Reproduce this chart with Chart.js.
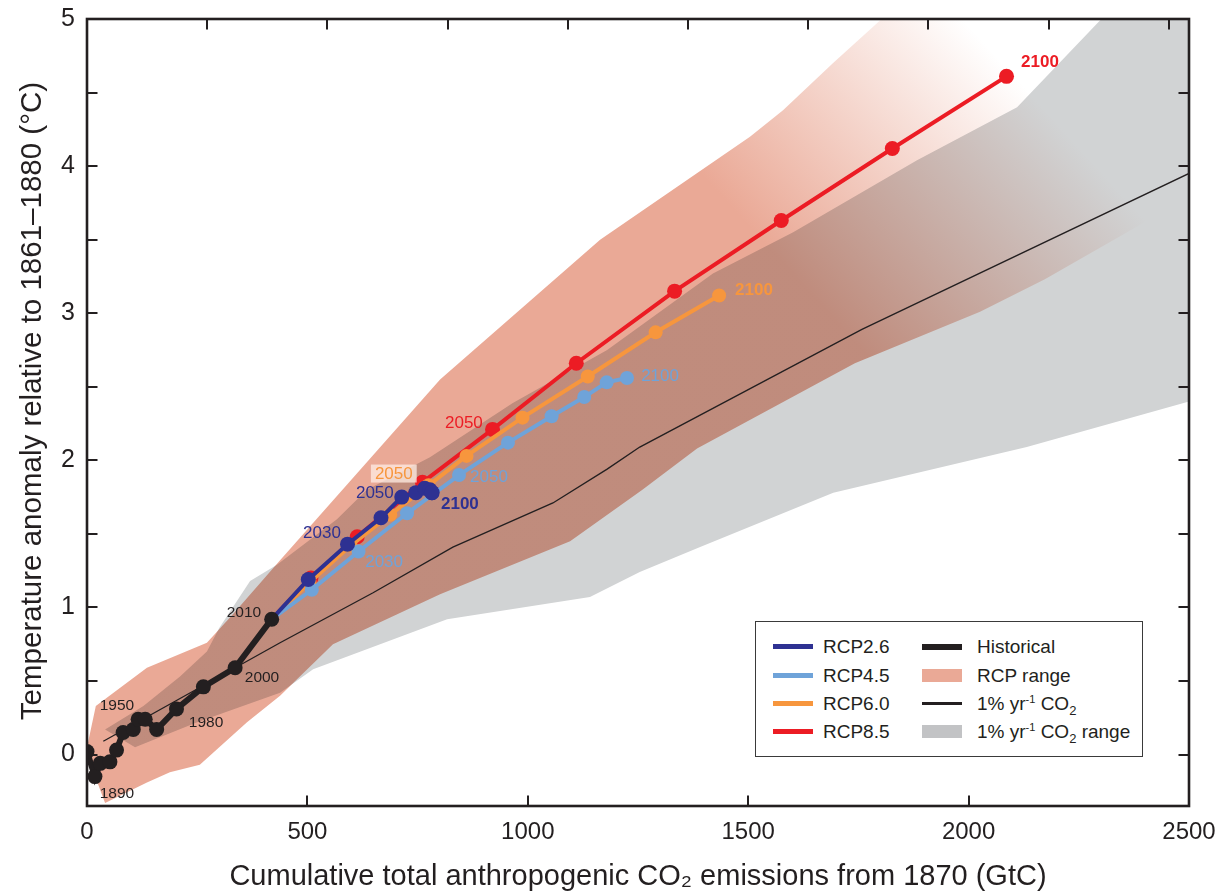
<!DOCTYPE html>
<html>
<head>
<meta charset="utf-8">
<script src="https://cdn.jsdelivr.net/npm/chart.js@4.4.1/dist/chart.umd.min.js"></script>
<style>
  html, body { margin: 0; padding: 0; background: #fff; }
  #wrap { position: relative; width: 1220px; height: 894px; overflow: hidden; }
  canvas { display: block; }
  #legend {
    position: absolute; left: 755px; top: 621px; width: 388px; height: 136px;
    border: 1.5px solid #3a3a3a; background: #fff; box-sizing: border-box;
    font-family: 'Liberation Sans', Arial, sans-serif; font-size: 19px; color: #231f20;
  }
  #legend .sw { position: absolute; width: 40px; }
  #legend .lb { position: absolute; line-height: 22px; white-space: nowrap; }
  #legend sup { font-size: 11px; vertical-align: 7px; line-height: 0; }
  #legend sub { font-size: 13px; vertical-align: -5px; line-height: 0; }
</style>
</head>
<body>
<div id="wrap">
  <canvas id="chart" width="1220" height="894"></canvas>
  <div id="legend"></div>
</div>
<script>
// ---------------- data ----------------
// x: cumulative CO2 emissions since 1870 (GtC), y: temperature anomaly (°C)
const historical = [[0,0.02],[18,-0.15],[30,-0.06],[52,-0.05],[67,0.03],[82,0.15],[105,0.17],[116,0.24],[132,0.24],[158,0.17],[203,0.31],[264,0.46],[336,0.59],[419,0.92]];
const rcp26 = [[419,0.92],[502,1.19],[591,1.43],[667,1.61],[714,1.75],[746,1.78],[766,1.81],[778,1.80],[783,1.78],[782,1.78]];
const rcp45 = [[419,0.92],[510,1.12],[616,1.38],[726,1.64],[844,1.90],[955,2.12],[1054,2.30],[1128,2.43],[1179,2.53],[1225,2.56]];
const rcp60 = [[419,0.92],[505,1.17],[598,1.42],[688,1.63],[775,1.83],[861,2.03],[988,2.29],[1136,2.57],[1290,2.87],[1434,3.12]];
const rcp85 = [[419,0.92],[508,1.20],[613,1.48],[761,1.85],[920,2.21],[1110,2.66],[1333,3.15],[1575,3.63],[1827,4.12],[2086,4.61]];
const onePct = [[37,0.09],[438,0.76],[649,1.10],[830,1.41],[1057,1.71],[1180,1.94],[1254,2.09],[1758,2.89],[2500,3.95]];

const rcpRangeUpper = [[0,0.05],[20,0.33],[136,0.59],[272,0.76],[330,0.95],[438,1.32],[801,2.55],[1164,3.50],[1504,4.20],[1579,4.38],[1692,4.70],[1799,4.99],[2000,5.60],[2418,3.65]];
const rcpRangeLower = [[0,0.00],[41,-0.33],[136,-0.19],[188,-0.12],[256,-0.07],[363,0.22],[438,0.40],[558,0.75],[801,1.09],[1096,1.45],[1260,1.80],[1384,2.08],[1742,2.66],[2026,3.01],[2173,3.23],[2418,3.65]];

const onePctRangeUpper = [[41,0.17],[128,0.33],[211,0.53],[272,0.70],[300,0.86],[370,1.18],[431,1.29],[567,1.60],[635,1.80],[778,2.02],[966,2.39],[1180,2.75],[1420,3.27],[1602,3.55],[1883,4.04],[2110,4.40],[2298,4.99],[2500,5.45]];
const onePctRangeLower = [[41,0.17],[109,0.05],[250,0.22],[438,0.42],[513,0.58],[817,0.92],[1141,1.07],[1254,1.24],[1391,1.41],[1693,1.78],[2132,2.09],[2500,2.40]];

// year annotations: text, anchor in data coordinates, series, bold
const yearLabels = [
  ['1890', 68, -0.26, 'hist', false], ['1950', 68, 0.34, 'hist', false], ['1980', 270, 0.22, 'hist', false],
  ['2000', 397, 0.53, 'hist', false], ['2010', 356, 0.97, 'hist', false],
  ['2030', 533, 1.51, 'rcp26', false], ['2050', 653, 1.78, 'rcp26', false], ['2100', 846, 1.71, 'rcp26', true],
  ['2030', 674, 1.31, 'rcp45', false], ['2050', 912, 1.89, 'rcp45', false], ['2100', 1300, 2.58, 'rcp45', false],
  ['2050', 696, 1.91, 'rcp60', false], ['2100', 1513, 3.16, 'rcp60', true],
  ['2050', 855, 2.26, 'rcp85', false], ['2100', 2162, 4.71, 'rcp85', true]
];

const xTickValues = [0, 500, 1000, 1500, 2000, 2500];
const yTickValues = [0, 0.5, 1, 1.5, 2, 2.5, 3, 3.5, 4, 4.5, 5];
const topTicksGtCO2 = [1000, 2000, 3000, 4000, 5000, 6000, 7000, 8000, 9000];
const GTCO2_PER_GTC = 3.667;

const legendEntries = [
  ['RCP2.6', 'rcp26', 'line', 0, 0], ['RCP4.5', 'rcp45', 'line', 0, 1], ['RCP6.0', 'rcp60', 'line', 0, 2], ['RCP8.5', 'rcp85', 'line', 0, 3],
  ['Historical', 'hist', 'thick', 1, 0], ['RCP range', 'rcpRange', 'box', 1, 1],
  ['1% yr<sup>-1</sup> CO<sub>2</sub>', 'hist', 'thin', 1, 2], ['1% yr<sup>-1</sup> CO<sub>2</sub> range', 'grayLegend', 'box', 1, 3]
];

// ---------------- styles ----------------
const COLORS = {
  hist: '#231f20', rcp26: '#2e3192', rcp45: '#6fa3d9', rcp60: '#f7963d', rcp85: '#ec1c24',
  rcpRange: '#eaa996', gray: '#d1d3d4', grayLegend: '#c2c3c5'
};
const FONT = "'Liberation Sans', Arial, sans-serif";
const FADE_FROM = [1572, 3.36], FADE_TO = [2071, 4.72];

const toXY = a => a.map(([x, y]) => ({x, y}));
const noPts = {pointRadius: 0, pointHoverRadius: 0, showLine: false, borderWidth: 0};

function rcpGradient(context) {
  const chart = context.chart;
  const xs = chart.scales.x, ys = chart.scales.y;
  if (!xs || !ys || !chart.chartArea) return 'rgba(234,169,150,0.9)';
  const g = chart.ctx.createLinearGradient(
    xs.getPixelForValue(FADE_FROM[0]), ys.getPixelForValue(FADE_FROM[1]),
    xs.getPixelForValue(FADE_TO[0]), ys.getPixelForValue(FADE_TO[1]));
  g.addColorStop(0, 'rgba(234,169,150,1)');
  g.addColorStop(0.55, 'rgba(234,169,150,0.45)');
  g.addColorStop(1, 'rgba(234,169,150,0)');
  return g;
}

function series(data, color, width, radius, order) {
  return {
    data: toXY(data), borderColor: color, backgroundColor: color, borderWidth: width,
    pointBackgroundColor: color, pointBorderWidth: 0,
    pointRadius: c => (c.dataIndex === 0 && data !== historical ? 0 : radius),
    fill: false, order
  };
}

const datasets = [
  series(historical, COLORS.hist, 6, 7.5, 1),                                   // 0
  series(rcp26, COLORS.rcp26, 4, 7.5, 2),                                       // 1
  series(rcp45, COLORS.rcp45, 4, 7, 3),                                         // 2
  series(rcp60, COLORS.rcp60, 4, 7, 4),                                         // 3
  series(rcp85, COLORS.rcp85, 4, 7.5, 5),                                       // 4
  {data: toXY(onePct), borderColor: COLORS.hist, borderWidth: 1.3, pointRadius: 0, fill: false, order: 6}, // 5
  Object.assign({data: toXY(rcpRangeLower), order: 8, fill: false}, noPts),     // 6
  Object.assign({data: toXY(rcpRangeUpper), order: 7, fill: {target: 6}, backgroundColor: rcpGradient}, noPts), // 7
  Object.assign({data: toXY(onePctRangeLower), order: 10, fill: false}, noPts), // 8
  Object.assign({data: toXY(onePctRangeUpper), order: 9, fill: {target: 8}, backgroundColor: COLORS.gray}, noPts) // 9
];
const IDX_RCP_LOWER = 6, IDX_RCP_UPPER = 7;

const figurePlugin = {
  id: 'figure',
  beforeDraw(chart) {
    const c = chart.ctx; c.save(); c.fillStyle = '#fff'; c.fillRect(0, 0, chart.width, chart.height); c.restore();
  },
  afterDatasetDraw(chart, args) {
    if (args.index === IDX_RCP_LOWER) chart.ctx.globalCompositeOperation = 'multiply';
    if (args.index === IDX_RCP_UPPER) chart.ctx.globalCompositeOperation = 'source-over';
  },
  afterDatasetsDraw(chart) {
    const c = chart.ctx, xs = chart.scales.x, ys = chart.scales.y;
    c.save();
    c.globalCompositeOperation = 'source-over';
    c.textAlign = 'center'; c.textBaseline = 'middle';
    for (const [t, x, y, key, bold] of yearLabels) {
      const px = xs.getPixelForValue(x), py = ys.getPixelForValue(y);
      const size = key === 'hist' ? 15.5 : 17;
      c.font = (bold ? 'bold ' : '') + size + 'px ' + FONT;
      if (key === 'rcp60' && !bold) {
        const w = c.measureText(t).width;
        c.fillStyle = 'rgba(255,238,228,0.75)';
        c.fillRect(px - w / 2 - 4, py - 9, w + 8, 18);
      }
      c.fillStyle = COLORS[key];
      c.fillText(t, px, py + 1);
    }
    c.restore();
  },
  afterDraw(chart) {
    const c = chart.ctx, a = chart.chartArea, xs = chart.scales.x, ys = chart.scales.y;
    const L = 10.5;
    c.save();
    c.strokeStyle = '#231f20'; c.lineWidth = 2; c.lineCap = 'butt';
    c.beginPath();
    for (const v of yTickValues) {
      const py = Math.round(ys.getPixelForValue(v));
      c.moveTo(a.left, py); c.lineTo(a.left + L, py);
      c.moveTo(a.right, py); c.lineTo(a.right - L, py);
    }
    for (const v of xTickValues.slice(1, -1)) {
      const px = Math.round(xs.getPixelForValue(v));
      c.moveTo(px, a.bottom); c.lineTo(px, a.bottom - L);
    }
    for (const v of topTicksGtCO2) {
      const px = Math.round(xs.getPixelForValue(v / GTCO2_PER_GTC));
      c.moveTo(px, a.top); c.lineTo(px, a.top + L);
    }
    c.stroke();
    c.lineWidth = 2.6;
    c.strokeRect(a.left, a.top, a.right - a.left, a.bottom - a.top);
    c.restore();
  }
};

new Chart(document.getElementById('chart'), {
  type: 'line',
  data: {datasets},
  options: {
    responsive: false, animation: false, devicePixelRatio: 1, events: [],
    layout: {padding: {top: 19, right: 31, left: 0, bottom: 0}},
    plugins: {legend: {display: false}, tooltip: {enabled: false}, filler: {propagate: false}},
    elements: {line: {tension: 0}},
    scales: {
      x: {
        type: 'linear', min: 0, max: 2500,
        afterBuildTicks: s => { s.ticks = xTickValues.map(v => ({value: v})); },
        afterFit: s => { s.height = 88; s.paddingLeft = 0; s.paddingRight = 0; },
        grid: {display: false, drawTicks: false}, border: {display: false},
        ticks: {padding: 12, color: '#231f20', font: {family: FONT, size: 24}, maxRotation: 0, autoSkip: false,
                callback: v => String(v)},
        title: {display: true, text: 'Cumulative total anthropogenic CO\u2082 emissions from 1870 (GtC)',
                color: '#231f20', font: {family: FONT, size: 29, lineHeight: 1.2}, padding: {top: 0, bottom: 0}}
      },
      y: {
        type: 'linear', min: -0.35, max: 5,
        afterBuildTicks: s => { s.ticks = yTickValues.map(v => ({value: v})); },
        afterFit: s => { s.width = 87; s.paddingTop = 0; s.paddingBottom = 0; },
        grid: {display: false, drawTicks: false}, border: {display: false},
        ticks: {padding: 12, color: '#231f20', font: {family: FONT, size: 25}, autoSkip: false,
                callback: v => (Number.isInteger(v) ? String(v) : '')},
        title: {display: true, text: '\u2002 Temperature anomaly relative to 1861\u20131880 (\u00b0C)',
                color: '#231f20', font: {family: FONT, size: 29.5, lineHeight: 1.2}, padding: {top: 15, bottom: 0}}
      }
    }
  },
  plugins: [figurePlugin]
});

// ---------------- legend (HTML text) ----------------
(function buildLegend() {
  const box = document.getElementById('legend');
  const rowY = [26, 55, 83, 111];
  const colSw = [17, 166], colLb = [67, 221];
  const h = {line: 5, thick: 6, thin: 2.5, box: 13};
  for (const [label, key, kind, col, row] of legendEntries) {
    const sw = document.createElement('div');
    sw.className = 'sw';
    sw.style.left = colSw[col] + 'px';
    sw.style.top = (rowY[row] - h[kind] / 2 - 1.5) + 'px';
    sw.style.height = h[kind] + 'px';
    sw.style.background = COLORS[key];
    box.appendChild(sw);
    const lb = document.createElement('div');
    lb.className = 'lb';
    lb.style.left = colLb[col] + 'px';
    lb.style.top = (rowY[row] - 11 - 1.5) + 'px';
    lb.innerHTML = label;
    box.appendChild(lb);
  }
})();
</script>
</body>
</html>
